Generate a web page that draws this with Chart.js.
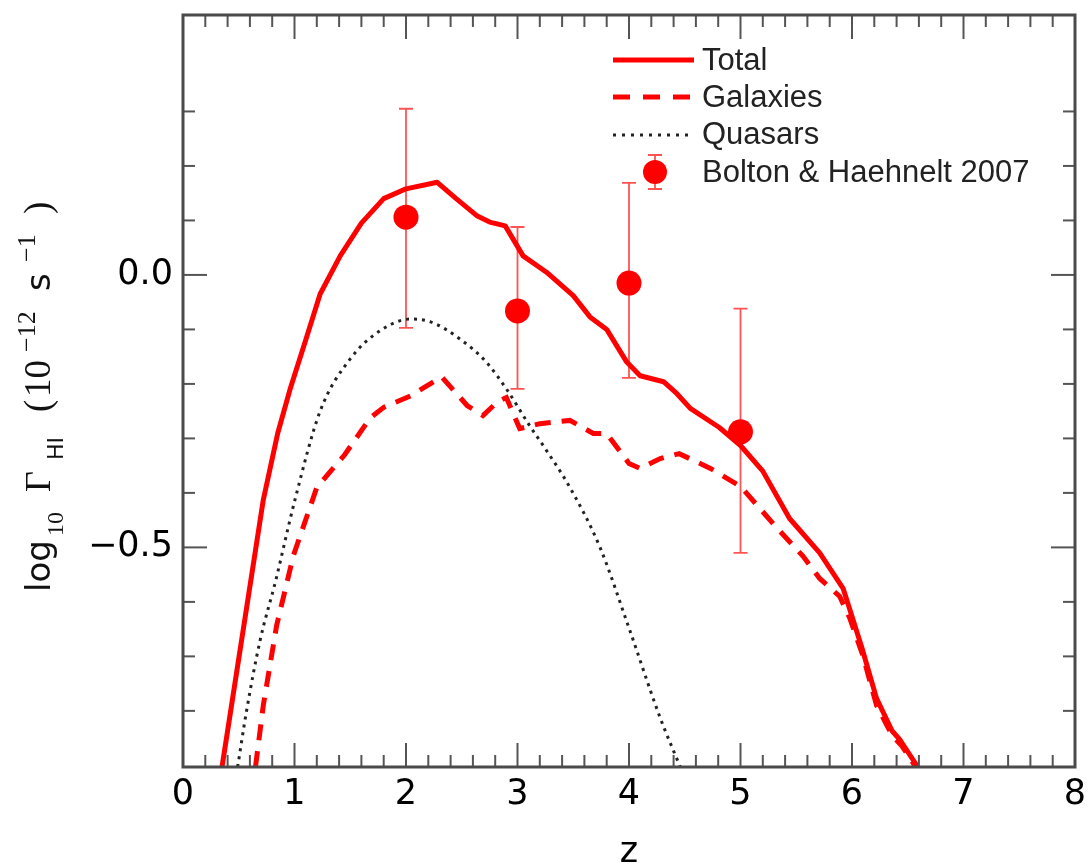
<!DOCTYPE html>
<html>
<head>
<meta charset="utf-8">
<script src="https://cdn.jsdelivr.net/npm/chart.js@4"></script>
<style>
html,body{margin:0;padding:0;background:#fff;}
#c{display:block;}
</style>
</head>
<body>
<canvas id="c" width="1090" height="865" style="width:1090px;height:865px"></canvas>
<script>
// ---- data ----
const totalZ = [0.35,0.72,0.85,0.96,1.1,1.23,1.41,1.6,1.8,2.0,2.28,2.45,2.64,2.75,2.89,3.05,3.26,3.5,3.65,3.8,3.98,4.1,4.31,4.43,4.55,4.81,5.0,5.2,5.44,5.71,5.92,6.09,6.22,6.36,6.43,6.59];
const totalV = [-0.903,-0.413,-0.29,-0.21,-0.12,-0.035,0.035,0.095,0.14,0.158,0.17,0.14,0.108,0.097,0.09,0.035,0.005,-0.038,-0.077,-0.1,-0.16,-0.185,-0.196,-0.218,-0.245,-0.28,-0.313,-0.36,-0.447,-0.51,-0.575,-0.685,-0.777,-0.837,-0.853,-0.903];

const galZ = [0.65,0.72,0.84,0.99,1.2,1.45,1.68,1.8,2.04,2.32,2.55,2.69,2.82,2.9,3.02,3.2,3.47,3.68,3.8,4.0,4.1,4.28,4.45,4.73,5.0,5.33,5.56,5.71,5.89,5.98,6.1,6.22,6.36,6.45,6.57];
const galV = [-0.903,-0.79,-0.643,-0.515,-0.39,-0.33,-0.262,-0.243,-0.222,-0.187,-0.24,-0.258,-0.233,-0.225,-0.282,-0.273,-0.267,-0.291,-0.291,-0.346,-0.355,-0.337,-0.328,-0.355,-0.388,-0.465,-0.516,-0.557,-0.59,-0.63,-0.70,-0.79,-0.845,-0.865,-0.903];

const qsoZ = [0.49,0.57,0.69,0.83,1.0,1.23,1.5,1.77,2.04,2.22,2.48,2.72,2.9,3.11,3.23,3.47,3.74,4.0,4.28,4.46];
const qsoV = [-0.903,-0.80,-0.672,-0.562,-0.416,-0.25,-0.154,-0.102,-0.081,-0.086,-0.117,-0.16,-0.209,-0.277,-0.313,-0.39,-0.5,-0.648,-0.813,-0.903];

const bhZ   = [2, 3, 4, 5];
const bhV   = [0.106, -0.066, -0.015, -0.288];
const bhUp  = [0.305, 0.088, 0.169, -0.062];
const bhLow = [-0.097, -0.209, -0.189, -0.51];

const seriesNames = ['Total', 'Galaxies', 'Quasars', 'Bolton & Haehnelt 2007'];

const xTickValues = [0,1,2,3,4,5,6,7,8];
const xTickLabels = ['0','1','2','3','4','5','6','7','8'];
const xMinorTicks = [0.2,0.4,0.6,0.8,1.2,1.4,1.6,1.8,2.2,2.4,2.6,2.8,3.2,3.4,3.6,3.8,4.2,4.4,4.6,4.8,5.2,5.4,5.6,5.8,6.2,6.4,6.6,6.8,7.2,7.4,7.6,7.8];
const yTickValues = [-0.5, 0.0];
const yTickLabels = ['\u22120.5', '0.0'];
const yMinorTicks = [-0.8,-0.7,-0.6,-0.4,-0.3,-0.2,-0.1,0.1,0.2,0.3];
const xMin = 0, xMax = 8, yMin = -0.903, yMax = 0.477;

const xTitle = 'z';

// ---- helpers ----
const pts = (zs, vs) => zs.map((z, i) => ({x: z, y: vs[i]}));
const RED = '#ff0000';

const decoPlugin = {
  id: 'deco',
  beforeDatasetsDraw(chart) {
    const {ctx, chartArea: a, scales: {x, y}} = chart;
    ctx.save();
    ctx.beginPath();
    ctx.rect(a.left, a.top, a.width, a.height);
    ctx.clip();
    ctx.strokeStyle = 'rgba(255,40,40,0.8)';
    ctx.lineWidth = 1.8;
    bhZ.forEach((z, i) => {
      const px = x.getPixelForValue(z);
      const pt = y.getPixelForValue(bhUp[i]);
      const pb = y.getPixelForValue(bhLow[i]);
      ctx.beginPath();
      ctx.moveTo(px, pt); ctx.lineTo(px, pb);
      ctx.moveTo(px - 7, pt); ctx.lineTo(px + 7, pt);
      ctx.moveTo(px - 7, pb); ctx.lineTo(px + 7, pb);
      ctx.stroke();
    });
    ctx.restore();
  },
  afterDatasetsDraw(chart) {
    const {ctx, chartArea: a, scales: {x, y}} = chart;
    ctx.save();
    ctx.strokeStyle = '#555';
    ctx.lineWidth = 2;
    const seg = (x1, y1, x2, y2) => { ctx.beginPath(); ctx.moveTo(x1, y1); ctx.lineTo(x2, y2); ctx.stroke(); };
    xTickValues.forEach(v => { const p = x.getPixelForValue(v); seg(p, a.bottom, p, a.bottom - 24); seg(p, a.top, p, a.top + 24); });
    xMinorTicks.forEach(v => { const p = x.getPixelForValue(v); seg(p, a.bottom, p, a.bottom - 12); seg(p, a.top, p, a.top + 12); });
    yTickValues.forEach(v => { const p = y.getPixelForValue(v); seg(a.left, p, a.left + 24, p); seg(a.right, p, a.right - 24, p); });
    yMinorTicks.forEach(v => { const p = y.getPixelForValue(v); seg(a.left, p, a.left + 12, p); seg(a.right, p, a.right - 12, p); });
    ctx.lineWidth = 3;
    ctx.strokeStyle = '#4a4a4a';
    ctx.strokeRect(a.left, a.top, a.width, a.height);
    ctx.restore();
  },
  afterDraw(chart) {
    const {ctx, chartArea: a} = chart;
    ctx.save();
    // legend
    const lx0 = 613, lx1 = 694, tx = 702;
    const rows = [60, 97, 135, 172];
    const base = [70, 107, 144, 182];
    ctx.lineCap = 'butt';
    ctx.strokeStyle = RED; ctx.lineWidth = 5;
    ctx.beginPath(); ctx.moveTo(lx0, rows[0]); ctx.lineTo(lx1, rows[0]); ctx.stroke();
    ctx.setLineDash([17, 13]);
    ctx.beginPath(); ctx.moveTo(lx0, rows[1]); ctx.lineTo(lx1, rows[1]); ctx.stroke();
    ctx.setLineDash([3, 6]);
    ctx.strokeStyle = '#222'; ctx.lineWidth = 3;
    ctx.beginPath(); ctx.moveTo(lx0, rows[2]); ctx.lineTo(lx1, rows[2]); ctx.stroke();
    ctx.setLineDash([]);
    // marker
    const mx = 655, my = rows[3];
    ctx.strokeStyle = 'rgba(255,40,40,0.8)'; ctx.lineWidth = 1.8;
    ctx.beginPath();
    ctx.moveTo(mx, my - 17); ctx.lineTo(mx, my + 17);
    ctx.moveTo(mx - 7, my - 17); ctx.lineTo(mx + 7, my - 17);
    ctx.moveTo(mx - 7, my + 17); ctx.lineTo(mx + 7, my + 17);
    ctx.stroke();
    ctx.fillStyle = RED;
    ctx.beginPath(); ctx.arc(mx, my, 12, 0, Math.PI * 2); ctx.fill();
    ctx.fillStyle = '#222';
    ctx.font = '31px "Liberation Sans", Arial, sans-serif';
    ctx.textBaseline = 'alphabetic';
    ctx.textAlign = 'left';
    seriesNames.forEach((n, i) => ctx.fillText(n, tx, base[i]));

    // x title
    ctx.fillStyle = '#000';
    ctx.font = '35px "DejaVu Sans", sans-serif';
    ctx.textAlign = 'center';
    ctx.textBaseline = 'alphabetic';
    ctx.fillText(xTitle, (a.left + a.right) / 2, 862);

    // y title (rotated, with sub/superscripts); 'at' = offset along the text direction
    const parts = [
      {t: 'log',     f: '34px "DejaVu Sans", sans-serif',   at: 0,   dy: 0},
      {t: '10',      f: '24px "Liberation Serif", serif',   at: 56,  dy: 13},
      {t: '\u0393',  f: '36px "Liberation Serif", serif',   at: 100, dy: 0},
      {t: 'HI',      f: '22px "DejaVu Sans", sans-serif',   at: 132, dy: 13},
      {t: '(',       f: '37px "Liberation Serif", serif',   at: 180, dy: 0},
      {t: '10',      f: '37px "Liberation Serif", serif',   at: 195, dy: 0},
      {t: '\u221212',f: '26px "Liberation Serif", serif',   at: 240, dy: -15},
      {t: 's',       f: '34px "DejaVu Sans", sans-serif',   at: 301, dy: 0},
      {t: '\u22121', f: '26px "Liberation Serif", serif',   at: 330, dy: -15},
      {t: ')',       f: '37px "Liberation Serif", serif',   at: 378, dy: 0}
    ];
    ctx.translate(50, 592);
    ctx.rotate(-Math.PI / 2);
    ctx.textAlign = 'left';
    ctx.textBaseline = 'alphabetic';
    ctx.fillStyle = '#111';
    parts.forEach(p => { ctx.font = p.f; ctx.fillText(p.t, p.at, p.dy); });
    ctx.restore();
  }
};

new Chart(document.getElementById('c'), {
  type: 'scatter',
  data: {
    datasets: [
      {label: seriesNames[3], data: pts(bhZ, bhV), showLine: false, pointRadius: 12.5, pointHoverRadius: 12.5,
       backgroundColor: RED, borderColor: RED, borderWidth: 0, pointStyle: 'circle'},
      {label: seriesNames[0], data: pts(totalZ, totalV), showLine: true, borderColor: RED, borderWidth: 5,
       pointRadius: 0, tension: 0, fill: false, borderJoinStyle: 'round'},
      {label: seriesNames[1], data: pts(galZ, galV), showLine: true, borderColor: RED, borderWidth: 5,
       borderDash: [16, 11], pointRadius: 0, tension: 0, fill: false},
      {label: seriesNames[2], data: pts(qsoZ, qsoV), showLine: true, borderColor: '#222', borderWidth: 3,
       borderDash: [3, 5], pointRadius: 0, tension: 0.3, cubicInterpolationMode: 'monotone', fill: false}
    ]
  },
  options: {
    responsive: false,
    animation: false,
    events: [],
    layout: {padding: {top: 15, right: 15, left: 0, bottom: 0}},
    plugins: {legend: {display: false}, tooltip: {enabled: false}, title: {display: false}},
    scales: {
      x: {
        type: 'linear', min: xMin, max: xMax,
        afterFit: s => { s.height = 98; s.paddingLeft = 0; s.paddingRight = 0; },
        afterBuildTicks: s => { s.ticks = xTickValues.map(v => ({value: v})); },
        ticks: {callback: (v, i) => xTickLabels[i], font: {family: 'DejaVu Sans', size: 35}, color: '#000',
                padding: 7, maxRotation: 0, autoSkip: false},
        grid: {display: false, drawTicks: false, tickLength: 0},
        border: {display: false}
      },
      y: {
        type: 'linear', min: yMin, max: yMax,
        afterFit: s => { s.width = 183; s.paddingTop = 0; s.paddingBottom = 0; },
        afterBuildTicks: s => { s.ticks = yTickValues.map(v => ({value: v})); },
        ticks: {callback: (v, i) => yTickLabels[i], font: {family: 'DejaVu Sans', size: 35}, color: '#000',
                padding: 10, autoSkip: false},
        grid: {display: false, drawTicks: false, tickLength: 0},
        border: {display: false}
      }
    }
  },
  plugins: [decoPlugin]
});
</script>
</body>
</html>
